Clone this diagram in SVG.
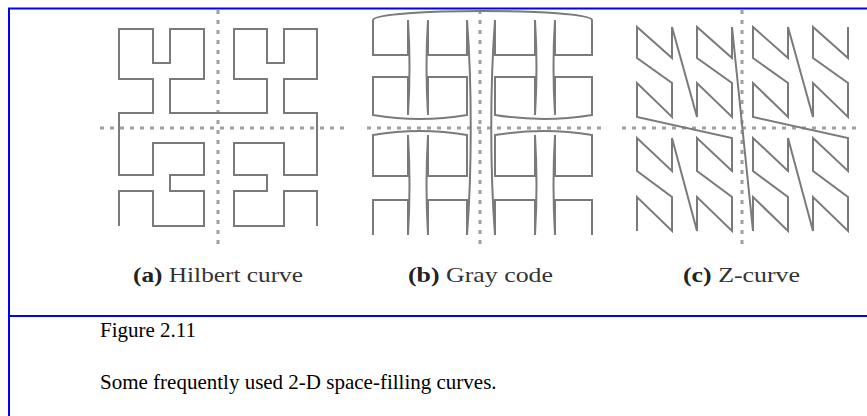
<svg xmlns="http://www.w3.org/2000/svg" width="867" height="416" viewBox="0 0 867 416">
<style>
.frame{stroke:#0000ff;stroke-width:2;fill:none}
.dash{stroke:#a0a0a0;stroke-width:3;stroke-dasharray:4 6;fill:none}
.curve{stroke:#7a7a7a;stroke-width:2;fill:none;stroke-linejoin:miter}
.lbl{font-family:"Liberation Serif","Times New Roman",serif;font-size:21px;fill:#333}
.lbl .b{font-weight:bold;fill:#222}
.cap{font-family:"Liberation Serif","Times New Roman",serif;font-size:21px;fill:#000}
</style>
<rect width="867" height="416" fill="#fff"/>
<g id="frame">
<path class="frame" d="M9,416 V8.5 H867"/>
<path class="frame" d="M8,316 H867"/>
</g>
<g id="hilbert">
<path class="dash" d="M218,10 V248 M100,128 H345"/>
<path class="curve" d="M119,226 V191 H153 V226 H204 V191 H170 V175 H204 V143 H153 V175 H119 V113 H153 V79 H119 V29 H153 V63 H170 V29 H204 V79 H170 V113 H267 V79 H234 V29 H267 V63 H284 V29 H317 V79 H284 V113 H317 V175 H284 V143 H234 V175 H267 V191 H234 V226 H284 V191 H317 V226"/>
<text class="lbl" x="133" y="282" textLength="170" lengthAdjust="spacingAndGlyphs"><tspan class="b">(a)</tspan> Hilbert curve</text>
</g>
<g id="graycode">
<path class="dash" d="M480,10 V248 M367,128 H602"/>
<path class="curve" d="M373,235 V200 H408 V235 Q411,185 408,135 V176 H373 V135 Q420,127 467,135 V176 H428 V135 Q425,185 428,235 V200 H467 V235 C472,170 472,85 467,20 V55 H428 V20 Q425,67 428,115 V77 H467 V115 Q420,123 373,115 V77 H408 V115 Q411,67 408,20 V55 H373 V20 C376,8 589,8 592,20 V55 H555 V20 Q552,67 555,115 V77 H592 V115 Q544,123 495,115 V77 H535 V115 Q538,67 535,20 V55 H495 V20 C490,85 490,170 495,235 V200 H535 V235 Q538,185 535,135 V176 H495 V135 Q544,127 592,135 V176 H555 V135 Q552,185 555,235 V200 H592 V235"/>
<text class="lbl" x="408" y="282" textLength="145" lengthAdjust="spacingAndGlyphs"><tspan class="b">(b)</tspan> Gray code</text>
</g>
<g id="zcurve">
<path class="dash" d="M742,10 V248 M622,128 H862"/>
<polyline class="curve" points="637,231 637,197 672,231 672,197 637,171 637,138 672,171 672,138 697,231 697,197 732,231 732,197 697,171 697,138 732,171 732,138 637,117 637,83 672,117 672,83 637,58 637,27 672,58 672,27 697,117 697,83 732,117 732,83 697,58 697,27 732,58 732,27 753,231 753,197 788,231 788,197 753,171 753,138 788,171 788,138 813,231 813,197 848,231 848,197 813,171 813,138 848,171 848,138 753,117 753,83 788,117 788,83 753,58 753,27 788,58 788,27 813,117 813,83 848,117 848,83 813,58 813,27 848,58 848,27"/>
<text class="lbl" x="683" y="282" textLength="117" lengthAdjust="spacingAndGlyphs"><tspan class="b">(c)</tspan> Z-curve</text>
</g>
<g id="caption">
<text class="cap" x="100" y="337">Figure 2.11</text>
<text class="cap" x="100" y="389">Some frequently used 2-D space-filling curves.</text>
</g>
</svg>
